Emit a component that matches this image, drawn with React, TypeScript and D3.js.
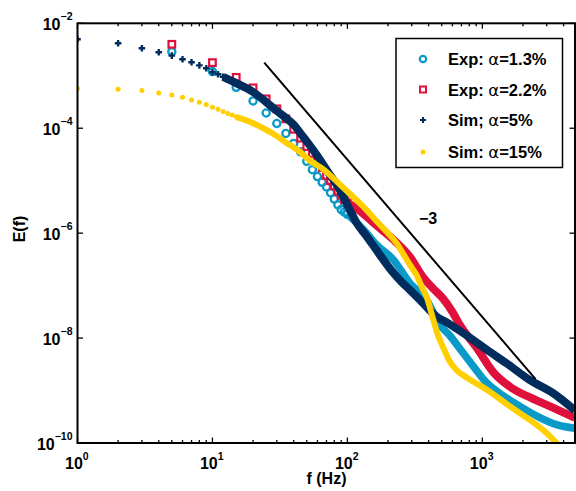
import React from "react";
import * as d3 from "d3";

// ---- data ----
// Sim α=5% (+ markers at integer f, then dense band)
const sim5MarkF = [1, 2, 3, 4, 5, 6, 7, 8, 9, 10, 11, 12];
const sim5MarkE = [4.95e-3, 4.16e-3, 3.34e-3, 2.81e-3, 2.42e-3, 2.06e-3, 1.81e-3, 1.58e-3, 1.39e-3, 1.17e-3, 1.07e-3, 9.55e-4];
const sim5LineF = [12, 15, 20, 25, 30, 35, 40, 45, 50, 60, 70, 88, 104, 117, 139, 164, 184, 218, 250, 290, 344, 400, 458, 560, 681, 850, 1074, 1510, 2250, 3343, 4860];
const sim5LineE = [9.55e-4, 7.24e-4, 4.9e-4, 3.16e-4, 2.14e-4, 1.58e-4, 1.17e-4, 7.94e-5, 5.62e-5, 2.95e-5, 1.62e-5, 6.61e-6, 2.82e-6, 1.58e-6, 8.71e-7, 4.79e-7, 3.16e-7, 1.78e-7, 1.2e-7, 8.32e-8, 5.37e-8, 3.55e-8, 2.57e-8, 1.91e-8, 1.38e-8, 9.33e-9, 6.03e-9, 3.31e-9, 1.58e-9, 8.91e-10, 4.17e-10];

// Sim α=15% (dots)
const sim15MarkF = [1, 2, 3, 4, 5, 6, 7, 8, 9, 10, 11, 12, 13, 14, 15];
const sim15MarkE = [5.69e-4, 5.53e-4, 5.21e-4, 4.68e-4, 4.31e-4, 3.89e-4, 3.47e-4, 3.13e-4, 2.82e-4, 2.51e-4, 2.29e-4, 2.09e-4, 1.91e-4, 1.78e-4, 1.66e-4];
const sim15LineF = [15, 19, 23.8, 28, 35, 43, 53, 66, 78.5, 93, 117, 140, 164, 195, 231, 260, 290, 326, 360, 386, 433, 470, 513, 575, 650, 764, 1074, 1600, 2250, 2990, 3548, 4300];
const sim15LineE = [1.62e-4, 1.32e-4, 1.0e-4, 7.94e-5, 5.37e-5, 3.8e-5, 2.4e-5, 1.66e-5, 1.12e-5, 7.41e-6, 4.27e-6, 2.69e-6, 1.7e-6, 1.07e-6, 6.46e-7, 3.98e-7, 2.51e-7, 1.58e-7, 8.91e-8, 6.17e-8, 2.24e-8, 1.12e-8, 6.61e-9, 3.55e-9, 2.4e-9, 1.78e-9, 1.05e-9, 5.01e-10, 2.75e-10, 1.55e-10, 1.0e-10, 6.03e-11];

// Exp α=1.3% (circles every 5 Hz)
const exp13MarkF = [5, 10, 15, 20, 25, 30, 35, 40, 45, 50, 55, 60, 65, 70, 75, 80, 85, 90, 95, 100];
const exp13MarkE = [2.88e-3, 1.2e-3, 6.03e-4, 3.31e-4, 1.95e-4, 1.23e-4, 7.94e-5, 5.13e-5, 3.55e-5, 2.34e-5, 1.62e-5, 1.2e-5, 9.33e-6, 7.59e-6, 5.89e-6, 4.47e-6, 3.47e-6, 2.82e-6, 2.51e-6, 2.29e-6];
const exp13LineF = [100, 139, 164, 218, 290, 386, 484, 574, 680, 808, 1074, 1427, 1896, 2600, 3548, 4860];
const exp13LineE = [2.29e-6, 1.0e-6, 6.03e-7, 3.16e-7, 1.12e-7, 5.37e-8, 1.78e-8, 1.12e-8, 6.31e-9, 3.55e-9, 1.41e-9, 7.94e-10, 5.01e-10, 3.16e-10, 2.24e-10, 1.91e-10];

// Exp α=2.2% (squares every 5 Hz)
const exp22MarkF = [5, 10, 15, 20, 25, 30, 35, 40, 45, 50, 55, 60, 65, 70, 75, 80, 85, 90, 95, 100];
const exp22MarkE = [3.98e-3, 1.78e-3, 9.33e-4, 5.89e-4, 3.63e-4, 2.34e-4, 1.51e-4, 9.55e-5, 6.46e-5, 4.47e-5, 3.31e-5, 2.51e-5, 1.78e-5, 1.26e-5, 1.0e-5, 7.94e-6, 6.31e-6, 5.25e-6, 4.37e-6, 3.8e-6];
const exp22LineF = [100, 124, 164, 218, 290, 366, 430, 513, 600, 681, 905, 1203, 1650, 2300, 3300, 4860];
const exp22LineE = [3.8e-6, 2.63e-6, 1.41e-6, 7.59e-7, 3.55e-7, 1.41e-7, 8.91e-8, 5.62e-8, 3.16e-8, 1.78e-8, 6.61e-9, 2.24e-9, 1.12e-9, 7.24e-10, 4.79e-10, 3.02e-10];

// -3 slope reference line
const refF = [24.2, 2480];
const refE = [1.78e-3, 1.65e-9];

const xMajor = [1, 10, 100, 1000];
const xMajorExp = ["0", "1", "2", "3"];
const yMajor = [1e-2, 1e-4, 1e-6, 1e-8, 1e-10];
const yMajorExp = ["−2", "−4", "−6", "−8", "−10"];

const legendLabels = ["Exp: ", "Exp: ", "Sim; ", "Sim: "];
const legendValues = ["=1.3%", "=2.2%", "=5%", "=15%"];

const C_BLUE = "#0a9ac8";
const C_RED = "#e0103c";
const C_NAVY = "#002c5e";
const C_YELLOW = "#ffcf00";

const W = 576;
const H = 491;
const L = 77.5, R = 575, T = 23.3, B = 443;
const FONT = "'Liberation Sans', Arial, Helvetica, sans-serif";

export default function App() {
  const x = d3.scaleLog().domain([1, 4860]).range([L, R]);
  const y = d3.scaleLog().domain([1e-10, 1e-2]).range([B, T]);

  const line = (fs: number[], es: number[]) =>
    d3.line<number>()
      .x((_, i) => x(fs[i]))
      .y((_, i) => y(es[i]))
      .curve(d3.curveMonotoneX)(fs) as string;

  const minorX: number[] = [];
  for (const dec of [1, 10, 100, 1000]) {
    for (let k = 2; k <= 9; k++) {
      const v = dec * k;
      if (v < 4860) minorX.push(v);
    }
  }

  const plus = (cx: number, cy: number, s: number) =>
    `M${cx - s},${cy}H${cx + s}M${cx},${cy - s}V${cy + s}`;

  return (
    <svg width={W} height={H} style={{ position: "absolute", left: 0, top: 0, background: "#fff" }}
      fontFamily={FONT}>
      <defs>
        <clipPath id="plotclip">
          <rect x={L} y={T} width={R - L} height={B - T} />
        </clipPath>
      </defs>
      <rect x={0} y={0} width={W} height={H} fill="#fff" />

      <g clipPath="url(#plotclip)">
        {/* Exp 1.3% */}
        <path d={line(exp13LineF, exp13LineE)} fill="none" stroke={C_BLUE} strokeWidth={7.5} strokeLinejoin="round" />
        {exp13MarkF.map((f, i) => (
          <circle key={"c" + i} cx={x(f)} cy={y(exp13MarkE[i])} r={3.6} fill="none" stroke={C_BLUE} strokeWidth={2.3} />
        ))}
        {/* Exp 2.2% */}
        <path d={line(exp22LineF, exp22LineE)} fill="none" stroke={C_RED} strokeWidth={8} strokeLinejoin="round" />
        {exp22MarkF.map((f, i) => (
          <rect key={"s" + i} x={x(f) - 3.3} y={y(exp22MarkE[i]) - 3.3} width={6.6} height={6.6} fill="none" stroke={C_RED} strokeWidth={2.2} />
        ))}
        {/* Sim 5% */}
        <path d={line(sim5LineF, sim5LineE)} fill="none" stroke={C_NAVY} strokeWidth={8} strokeLinejoin="round" />
        {sim5MarkF.map((f, i) => (
          <path key={"p" + i} d={plus(x(f), y(sim5MarkE[i]), 3.3)} stroke={C_NAVY} strokeWidth={2.4} fill="none" />
        ))}
        {/* Sim 15% */}
        <path d={line(sim15LineF, sim15LineE)} fill="none" stroke={C_YELLOW} strokeWidth={6} strokeLinejoin="round" />
        {sim15MarkF.map((f, i) => (
          <circle key={"d" + i} cx={x(f)} cy={y(sim15MarkE[i])} r={2.5} fill={C_YELLOW} />
        ))}
      </g>

      {/* -3 reference line */}
      <line x1={x(refF[0])} y1={y(refE[0])} x2={x(refF[1])} y2={y(refE[1])} stroke="#000" strokeWidth={2} />
      <text x={419} y={224} fontSize={16} fontWeight="bold">−3</text>

      {/* frame */}
      <rect x={L} y={T} width={R - L} height={B - T} fill="none" stroke="#000" strokeWidth={2} />

      {/* x ticks */}
      {xMajor.map((v) => (
        <g key={"xm" + v}>
          <line x1={x(v)} x2={x(v)} y1={B} y2={B - 5.5} stroke="#000" strokeWidth={1.3} />
          <line x1={x(v)} x2={x(v)} y1={T} y2={T + 5.5} stroke="#000" strokeWidth={1.3} />
        </g>
      ))}
      {minorX.map((v) => (
        <g key={"xn" + v}>
          <line x1={x(v)} x2={x(v)} y1={B} y2={B - 3} stroke="#000" strokeWidth={1.3} />
          <line x1={x(v)} x2={x(v)} y1={T} y2={T + 3} stroke="#000" strokeWidth={1.3} />
        </g>
      ))}
      {/* y ticks */}
      {yMajor.map((v) => (
        <g key={"ym" + v}>
          <line x1={L} x2={L + 5.5} y1={y(v)} y2={y(v)} stroke="#000" strokeWidth={1.3} />
          <line x1={R} x2={R - 5.5} y1={y(v)} y2={y(v)} stroke="#000" strokeWidth={1.3} />
        </g>
      ))}

      {/* x tick labels */}
      {xMajor.map((v, i) => (
        <text key={"xl" + v} x={x(v) - 12.5} y={468.5} fontSize={16} fontWeight="bold">
          <tspan>10</tspan>
          <tspan dy={-9} fontSize={10.5}>{xMajorExp[i]}</tspan>
        </text>
      ))}
      {/* y tick labels */}
      {yMajor.map((v, i) => (
        <text key={"yl" + v} x={72.5} y={y(v) + 6.5} fontSize={16} fontWeight="bold" textAnchor="end">
          <tspan>10</tspan>
          <tspan dy={-9.5} fontSize={10.5}>{yMajorExp[i]}</tspan>
        </text>
      ))}

      {/* axis titles */}
      <text x={326.5} y={484} fontSize={16} fontWeight="bold" textAnchor="middle">f (Hz)</text>
      <text transform={`translate(24.5,229) rotate(-90)`} fontSize={16} fontWeight="bold" textAnchor="middle">E(f)</text>

      {/* legend */}
      <rect x={396} y={38.5} width={166.5} height={129} fill="#fff" stroke="#000" strokeWidth={1.5} />
      {[59, 89.5, 120, 152].map((cy, i) => (
        <g key={"lg" + i}>
          {i === 0 && <circle cx={423} cy={cy} r={3.2} fill="none" stroke={C_BLUE} strokeWidth={2.2} />}
          {i === 1 && <rect x={420} y={cy - 3} width={6} height={6} fill="none" stroke={C_RED} strokeWidth={2} />}
          {i === 2 && <path d={plus(423, cy, 3)} stroke={C_NAVY} strokeWidth={2.2} />}
          {i === 3 && <circle cx={423} cy={cy} r={2.5} fill={C_YELLOW} />}
          <text x={448} y={cy + 6} fontSize={16.5} fontWeight="bold">
            <tspan>{legendLabels[i]}</tspan>
            <tspan fontWeight="normal" fontFamily="'DejaVu Sans', sans-serif">α</tspan>
            <tspan>{legendValues[i]}</tspan>
          </text>
        </g>
      ))}
    </svg>
  );
}
